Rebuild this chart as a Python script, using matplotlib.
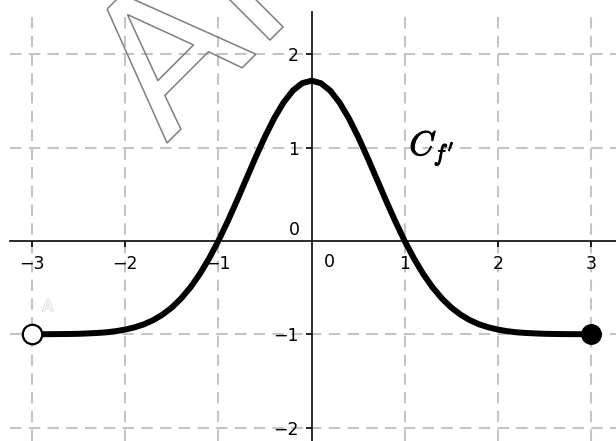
import numpy as np
import matplotlib
matplotlib.use("Agg")
import matplotlib.pyplot as plt
from matplotlib.textpath import TextPath
from matplotlib.patches import PathPatch
from matplotlib.font_manager import FontProperties
from matplotlib.transforms import Affine2D
import matplotlib.patheffects as pe

plt.rcParams['font.family'] = ['DejaVu Sans']
plt.rcParams['mathtext.fontset'] = 'cm'

# ---- data ----
x_vals = [-3.0, -2.9, -2.8, -2.7, -2.6, -2.5, -2.4, -2.3, -2.2, -2.1,
          -2.0, -1.9, -1.8, -1.7, -1.6, -1.5, -1.4, -1.3, -1.2, -1.1,
          -1.0, -0.9, -0.8, -0.7, -0.6, -0.5, -0.4, -0.3, -0.2, -0.1,
          0.0, 0.1, 0.2, 0.3, 0.4, 0.5, 0.6, 0.7, 0.8, 0.9,
          1.0, 1.1, 1.2, 1.3, 1.4, 1.5, 1.6, 1.7, 1.8, 1.9,
          2.0, 2.1, 2.2, 2.3, 2.4, 2.5, 2.6, 2.7, 2.8, 2.9, 3.0]
y_vals = [-1.0, -0.999, -0.999, -0.998, -0.997, -0.995, -0.991, -0.986, -0.979, -0.967,
          -0.95, -0.926, -0.894, -0.849, -0.79, -0.714, -0.617, -0.498, -0.356, -0.189,
          0.0, 0.209, 0.433, 0.665, 0.896, 1.117, 1.316, 1.484, 1.612, 1.691,
          1.718, 1.691, 1.612, 1.484, 1.316, 1.117, 0.896, 0.665, 0.433, 0.209,
          0.0, -0.189, -0.356, -0.498, -0.617, -0.714, -0.79, -0.849, -0.894, -0.926,
          -0.95, -0.967, -0.979, -0.986, -0.991, -0.995, -0.997, -0.998, -0.999, -0.999, -1.0]
open_pt = (-3, -1)
closed_pt = (3, -1)
x_ticks = [-3, -2, -1, 1, 2, 3]
y_ticks = [-2, -1, 1, 2]
curve_label = r"$C_{f'}$"
point_label = "A"
watermark = "AP"

W, H = 616, 441
fig = plt.figure(figsize=(W / 100, H / 100), dpi=100)
ax = fig.add_axes([10 / W, 0, 1 - 10 / W, 1 - 12 / H])
ax.set_xlim(-3.236, 3.268)
ax.set_ylim(-2.144, 2.454)

for s in ['top', 'right']:
    ax.spines[s].set_visible(False)
for s in ['left', 'bottom']:
    ax.spines[s].set_position(('data', 0))
    ax.spines[s].set_linewidth(1.3)
    ax.spines[s].set_color('#1a1a1a')

ax.set_xticks(x_ticks)
ax.set_yticks(y_ticks)
ax.set_xticklabels([f"\u2212{abs(t)}" if t < 0 else str(t) for t in x_ticks])
ax.set_yticklabels([f"\u2212{abs(t)}" if t < 0 else str(t) for t in y_ticks])
ax.tick_params(axis='x', direction='out', length=4, width=1.2, pad=6, labelsize=12.5)
ax.tick_params(axis='y', direction='out', length=4, width=1.2, pad=5, labelsize=12.5)

ax.grid(True, color='#c4c4c4', linewidth=1.5, linestyle=(0, (5.5, 3.5)))

ax.text(0.13, -0.13, "0", fontsize=12.5, ha='left', va='top')
ax.text(-0.12, 0.02, "0", fontsize=12.5, ha='right', va='bottom')

ax.plot(x_vals, y_vals, color='black', lw=4.3, solid_capstyle='butt', zorder=3)
ax.plot([open_pt[0]], [open_pt[1]], 'o', ms=14, mfc='white', mec='black', mew=1.6, zorder=4, clip_on=False)
ax.plot([closed_pt[0]], [closed_pt[1]], 'o', ms=14, mfc='black', mec='black', zorder=4, clip_on=False)

ax.text(1.05, 0.92, curve_label, fontsize=24.5, ha='left', va='baseline',
        path_effects=[pe.withStroke(linewidth=0.7, foreground='black')])
ax.text(-2.83, -0.70, point_label, fontsize=11, ha='center', va='center', color='white',
        path_effects=[pe.withStroke(linewidth=1.2, foreground='#d8d8d8')])

tp = TextPath((0, 0), watermark, size=188, prop=FontProperties(family='DejaVu Sans'))
tr = Affine2D().rotate_deg(45).translate(166, 297)
patch = PathPatch(tp, transform=tr, facecolor='none', edgecolor='#7f7f7f', lw=1.1, clip_on=False, zorder=5)
fig.add_artist(patch)

fig.savefig("out.png", dpi=100)
